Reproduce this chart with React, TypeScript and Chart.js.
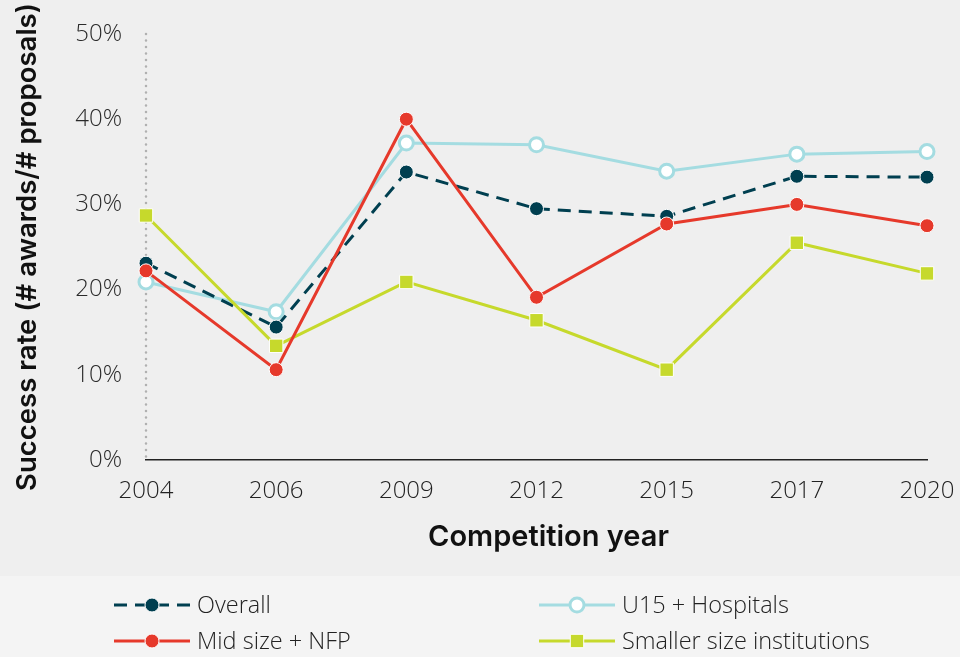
import React, { useEffect, useRef } from 'react';
import { Chart, registerables } from 'chart.js';

Chart.register(...registerables);

const years = ['2004', '2006', '2009', '2012', '2015', '2017', '2020'];
const overall = [23.1, 15.6, 33.8, 29.5, 28.6, 33.3, 33.2];
const u15Hospitals = [20.9, 17.4, 37.2, 37.0, 33.9, 35.9, 36.2];
const midSizeNfp = [22.2, 10.6, 40.0, 19.1, 27.7, 30.0, 27.5];
const smallerSize = [28.7, 13.4, 20.9, 16.4, 10.6, 25.5, 21.9];
const seriesNames = ['Overall', 'U15 + Hospitals', 'Mid size + NFP', 'Smaller size institutions'];
const yTickValues = [0, 10, 20, 30, 40, 50];
const xTitle = 'Competition year';
const yTitle = 'Success rate (# awards/# proposals)';

const LIGHT_FONT = '"Open Sans", Roboto, sans-serif';
const TITLE_FONT = 'Inter, "Liberation Sans", Arial, sans-serif';
const LEGEND_TOP = 576;

const bgLegendPlugin = {
  id: 'bgLegend',
  beforeDraw(chart: any) {
    const { ctx, width, height } = chart;
    ctx.save();
    ctx.fillStyle = '#efefef';
    ctx.fillRect(0, 0, width, height);
    ctx.fillStyle = '#f4f4f4';
    ctx.fillRect(0, LEGEND_TOP, width, height - LEGEND_TOP);
    ctx.restore();
  },
  beforeDatasetsDraw(chart: any) {
    const { ctx, chartArea } = chart;
    ctx.save();
    ctx.strokeStyle = '#b0b0b0';
    ctx.lineWidth = 2.5;
    ctx.lineCap = 'round';
    ctx.setLineDash([0, 6.5]);
    ctx.beginPath();
    ctx.moveTo(chartArea.left, chartArea.top);
    ctx.lineTo(chartArea.left, chartArea.bottom);
    ctx.stroke();
    ctx.restore();
  },
  afterDraw(chart: any) {
    const { ctx, chartArea } = chart;
    ctx.save();
    ctx.fillStyle = '#111';
    ctx.font = `600 29px ${TITLE_FONT}`;
    ctx.textAlign = 'center';
    ctx.textBaseline = 'middle';
    ctx.fillText(xTitle, (chartArea.left + chartArea.right) / 2 + 12, 537);
    ctx.restore();

    const slots = [
      { x: 114, y: 605 },
      { x: 539, y: 605 },
      { x: 114, y: 641 },
      { x: 539, y: 641 },
    ];
    chart.data.datasets.forEach((ds: any, i: number) => {
      const s = slots[i];
      const lineLen = 76;
      ctx.save();
      ctx.strokeStyle = ds.borderColor;
      ctx.lineWidth = ds.borderWidth;
      ctx.setLineDash(ds.borderDash || []);
      ctx.beginPath();
      ctx.moveTo(s.x, s.y);
      ctx.lineTo(s.x + lineLen, s.y);
      ctx.stroke();
      ctx.setLineDash([]);
      const cx = s.x + lineLen / 2;
      ctx.fillStyle = ds.pointBackgroundColor;
      ctx.strokeStyle = ds.pointBorderColor;
      ctx.lineWidth = ds.pointBorderWidth;
      ctx.beginPath();
      if (ds.pointStyle === 'rect') {
        const h = ds.pointRadius * Math.SQRT1_2;
        ctx.rect(cx - h, s.y - h, 2 * h, 2 * h);
      } else {
        ctx.arc(cx, s.y, ds.pointRadius, 0, Math.PI * 2);
      }
      ctx.fill();
      ctx.stroke();
      ctx.fillStyle = '#222';
      ctx.font = `300 23.5px ${LIGHT_FONT}`;
      ctx.textBaseline = 'middle';
      ctx.textAlign = 'left';
      ctx.fillText(ds.label, s.x + lineLen + 7, s.y + 1);
      ctx.restore();
    });
  },
};

export default function App() {
  const ref = useRef<HTMLCanvasElement>(null);
  useEffect(() => {
    document.body.style.margin = '0';
    const canvas = ref.current!;
    const chart = new Chart(canvas, {
      type: 'line',
      data: {
        labels: years,
        datasets: [
          {
            label: seriesNames[0],
            data: overall,
            borderColor: '#003f50',
            borderWidth: 3,
            borderDash: [13, 8],
            pointRadius: 7,
            pointBackgroundColor: '#003f50',
            pointBorderColor: '#ffffff',
            pointBorderWidth: 1,
            pointStyle: 'circle',
            order: 2,
          },
          {
            label: seriesNames[1],
            data: u15Hospitals,
            borderColor: '#a4dce1',
            borderWidth: 3,
            pointRadius: 7,
            pointBackgroundColor: '#ffffff',
            pointBorderColor: '#a4dce1',
            pointBorderWidth: 3,
            pointStyle: 'circle',
            order: 3,
          },
          {
            label: seriesNames[2],
            data: midSizeNfp,
            borderColor: '#e6392b',
            borderWidth: 3,
            pointRadius: 7,
            pointBackgroundColor: '#e6392b',
            pointBorderColor: '#ffffff',
            pointBorderWidth: 1,
            pointStyle: 'circle',
            order: 0,
          },
          {
            label: seriesNames[3],
            data: smallerSize,
            borderColor: '#c6d92c',
            borderWidth: 3,
            pointRadius: 9.5,
            pointBackgroundColor: '#c6d92c',
            pointBorderColor: '#ffffff',
            pointBorderWidth: 1,
            pointStyle: 'rect',
            order: 1,
          },
        ],
      },
      options: {
        responsive: false,
        animation: false,
        layout: { padding: { top: 34, right: 33, bottom: 657 - LEGEND_TOP, left: 0 } },
        plugins: { legend: { display: false }, tooltip: { enabled: false } },
        scales: {
          x: {
            grid: { display: false, drawTicks: false },
            border: { display: true, color: '#222', width: 1.5 },
            ticks: { color: '#222', font: { family: LIGHT_FONT, size: 24, weight: '300' }, padding: 17, maxRotation: 0 },
            title: { display: false },
            afterFit(scale: any) {
              scale.height = LEGEND_TOP - 460;
              scale.paddingLeft = 0;
              scale.paddingRight = 0;
            },
          },
          y: {
            min: 0,
            max: 50,
            afterBuildTicks(scale: any) {
              scale.ticks = yTickValues.map((v) => ({ value: v }));
            },
            grid: { display: false, drawTicks: false },
            border: { display: false },
            ticks: {
              color: '#2a2a2a',
              font: { family: LIGHT_FONT, size: 24, weight: '300' },
              padding: 24,
              callback: (v: any) => `${v}%`,
            },
            title: {
              display: true,
              text: yTitle,
              color: '#111',
              font: { family: TITLE_FONT, size: 27.5, weight: '600' },
              padding: { top: 11, bottom: 0 },
            },
            afterFit(scale: any) {
              scale.width = 146;
              scale.paddingTop = 0;
              scale.paddingBottom = 0;
            },
          },
        },
      },
      plugins: [bgLegendPlugin],
    });
    return () => chart.destroy();
  }, []);
  return <canvas ref={ref} width={960} height={657} style={{ display: 'block' }} />;
}
